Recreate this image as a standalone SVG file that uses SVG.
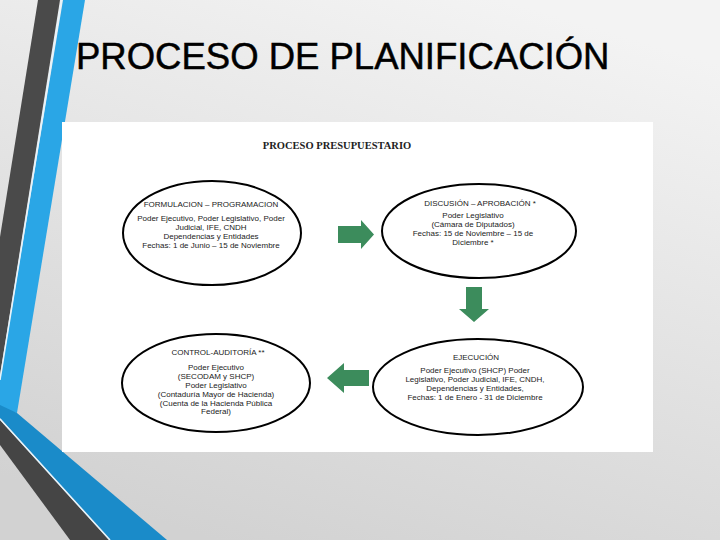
<svg xmlns="http://www.w3.org/2000/svg" width="720" height="540" viewBox="0 0 720 540">
<defs>
<linearGradient id="bg" x1="0.7" y1="0" x2="0.3" y2="1">
<stop offset="0" stop-color="#f3f3f3"/>
<stop offset="1" stop-color="#d2d2d2"/>
</linearGradient>
</defs>
<style>
.title{font-family:"Liberation Sans",Arial,sans-serif;font-size:36.5px;fill:#000;stroke:#000;stroke-width:0.5}
.head{font-family:"Liberation Serif","Times New Roman",serif;font-size:10.5px;font-weight:bold;fill:#222}
.node ellipse{fill:#fff;stroke:#000;stroke-width:2}
.node text{font-family:"Liberation Sans",Arial,sans-serif;font-size:8px;fill:#222;text-anchor:middle}
.arrow{fill:#3c8c5c}
</style>
<rect width="720" height="540" fill="url(#bg)"/>
<!-- decorative bands -->
<polygon points="38,0 60,0 0,375 0,237" fill="#4a4a4a"/>
<polygon points="63,0 85,0 17,413 0,410 0,380" fill="#2aa6e6"/>
<polygon points="0,405 17,413 167,540 110,540 0,418" fill="#1a8bc9"/>
<polygon points="0,420 109,540 70,540 0,445" fill="#454545"/>
<line x1="0" y1="419" x2="110" y2="540" stroke="#e8f4fb" stroke-width="1.5"/>
<line x1="61.5" y1="0" x2="0" y2="380" stroke="#e8f4fb" stroke-width="1.5"/>
<text class="title" x="76" y="69">PROCESO DE PLANIFICACIÓN</text>
<rect x="62" y="122" width="591" height="330" fill="#fff"/>
<text class="head" x="337" y="149" text-anchor="middle">PROCESO PRESUPUESTARIO</text>
<g id="formulacion" class="node">
<ellipse cx="212" cy="233" rx="89" ry="52"/>
<text x="211" y="207">FORMULACION – PROGRAMACION</text>
<text x="211" y="221">Poder Ejecutivo, Poder Legislativo, Poder</text>
<text x="211" y="230">Judicial, IFE, CNDH</text>
<text x="211" y="239">Dependencias y Entidades</text>
<text x="211" y="248">Fechas: 1 de Junio – 15 de Noviembre</text>
</g>
<g id="discusion" class="node">
<ellipse cx="479" cy="231" rx="97" ry="47"/>
<text x="480" y="206">DISCUSIÓN – APROBACIÓN *</text>
<text x="473" y="218">Poder Legislativo</text>
<text x="473" y="227">(Cámara de Diputados)</text>
<text x="473" y="236">Fechas: 15 de Noviembre – 15 de</text>
<text x="473" y="245">Diciembre *</text>
</g>
<g id="ejecucion" class="node">
<ellipse cx="478" cy="387" rx="105" ry="48"/>
<text x="476" y="360">EJECUCIÓN</text>
<text x="475" y="373">Poder Ejecutivo (SHCP) Poder</text>
<text x="475" y="382">Legislativo, Poder Judicial, IFE, CNDH,</text>
<text x="475" y="391">Dependencias y Entidades,</text>
<text x="475" y="400">Fechas: 1 de Enero - 31 de Diciembre</text>
</g>
<g id="control" class="node">
<ellipse cx="216" cy="383" rx="94" ry="49"/>
<text x="218" y="355">CONTROL-AUDITORÍA **</text>
<text x="216" y="370">Poder Ejecutivo</text>
<text x="216" y="379">(SECODAM y SHCP)</text>
<text x="216" y="388">Poder Legislativo</text>
<text x="216" y="397">(Contaduría Mayor de Hacienda)</text>
<text x="216" y="405.5">(Cuenta de la Hacienda Pública</text>
<text x="216" y="414">Federal)</text>
</g>
<g id="connectors">
<polygon class="arrow" points="338,226 361,226 361,220 374,234.5 361,249 361,243 338,243"/>
<polygon class="arrow" points="466,287 482,287 482,309 489,309 474,322 459,309 466,309"/>
<polygon class="arrow" points="369,370 344,370 344,363 327,378 344,393 344,386 369,386"/>
</g>
</svg>
